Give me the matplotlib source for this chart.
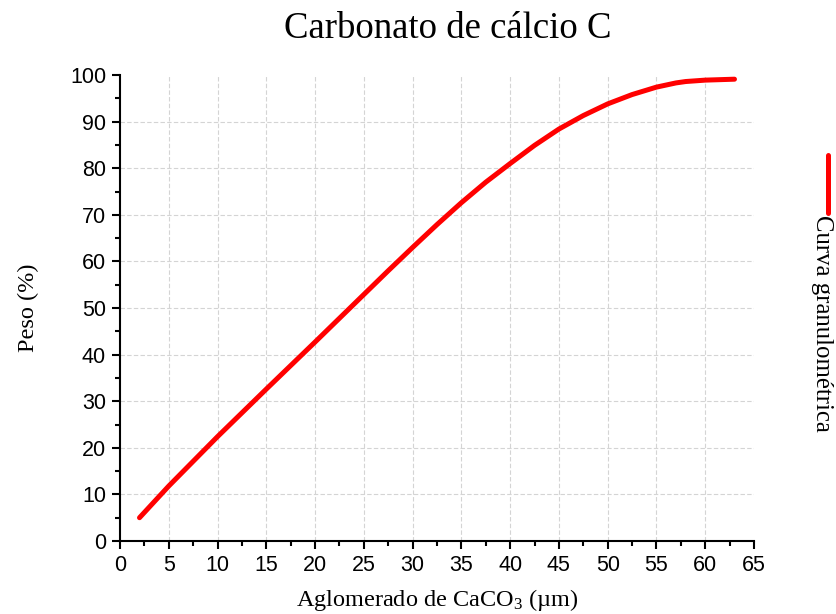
import matplotlib
matplotlib.use("Agg")
import matplotlib.pyplot as plt
from matplotlib.lines import Line2D
from matplotlib.ticker import MultipleLocator

# ---- data ----
x_um = [2, 5, 10, 15, 20, 22.5, 25, 27.5, 30, 32.5, 35, 37.5, 40, 42.5, 45, 47.5,
        50, 52.5, 55, 57, 58, 60, 63]
peso = [5.0, 11.8, 22.4, 32.6, 42.7, 47.8, 52.9, 58.0, 63.0, 67.9, 72.6, 77.0,
        81.0, 84.9, 88.4, 91.3, 93.8, 95.8, 97.4, 98.3, 98.6, 98.9, 99.1]
x_ticks = list(range(0, 66, 5))
y_ticks = list(range(0, 101, 10))
title = "Carbonato de cálcio C"
xlabel = "Aglomerado de CaCO$_3$ (µm)"
ylabel = "Peso (%)"
legend_label = "Curva granulométrica"

plt.rcParams['mathtext.default'] = 'regular'
serif = ['Liberation Serif', 'DejaVu Serif']
sans = ['Liberation Sans', 'DejaVu Sans']

W, H = 837, 614
fig = plt.figure(figsize=(W / 100, H / 100), dpi=100)
ax = fig.add_axes([120 / W, 1 - 541 / H, (754 - 120) / W, (541 - 75) / H])

# grid (interior only)
for xv in x_ticks[1:-1]:
    ax.axvline(xv, color='#d4d4d4', lw=0.8, ls=(0, (4, 2)), zorder=0)
for yv in y_ticks[1:-1]:
    ax.axhline(yv, color='#d4d4d4', lw=0.8, ls=(0, (4, 2)), zorder=0)

ax.plot(x_um, peso, color='#ff0000', lw=3.6, solid_capstyle='round',
        solid_joinstyle='round', zorder=3)

ax.set_xlim(0, 65)
ax.set_ylim(0, 100)
ax.set_xticks(x_ticks)
ax.set_yticks(y_ticks)
ax.xaxis.set_minor_locator(MultipleLocator(2.5))
ax.yaxis.set_minor_locator(MultipleLocator(5))

for s in ['top', 'right']:
    ax.spines[s].set_visible(False)
for s in ['left', 'bottom']:
    ax.spines[s].set_linewidth(1.5)
    ax.spines[s].set_color('black')

ax.tick_params(which='major', direction='out', length=6, width=1.5, pad=4,
               labelsize=15.5)
ax.tick_params(which='minor', direction='out', length=3.5, width=1.5)
for lab in ax.get_xticklabels() + ax.get_yticklabels():
    lab.set_family(sans)

ax.set_xlabel(xlabel, family=serif, fontsize=17.5, labelpad=8)
ax.set_ylabel(ylabel, family=serif, fontsize=17.5, labelpad=22)

fig.text(448 / W, 1 - 29 / H, title, family=serif, fontsize=26.5,
         ha='center', va='center')

# legend drawn on the right, rotated
fig.add_artist(Line2D([828 / W, 828 / W], [1 - 155 / H, 1 - 213 / H],
                      color='#ff0000', lw=3.6, solid_capstyle='round',
                      transform=fig.transFigure))
fig.text(822 / W, 1 - 215 / H, legend_label, family=serif, fontsize=17.8,
         rotation=270, ha='center', va='top')

fig.savefig('out.png', dpi=100)
